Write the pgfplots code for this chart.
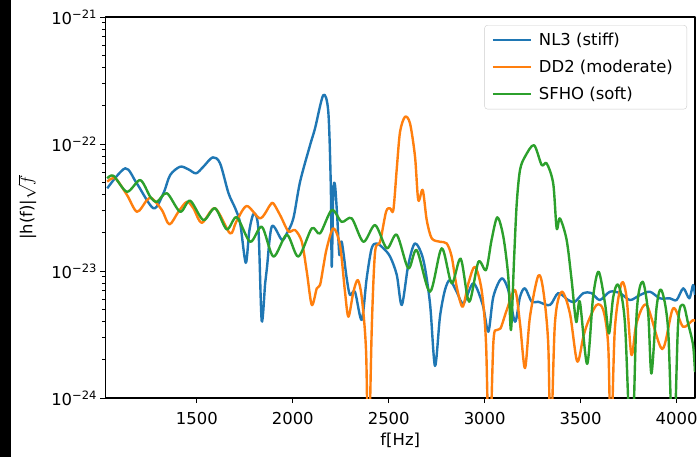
\documentclass[border=0pt]{standalone}
\usepackage{pgfplots}
\pgfplotsset{compat=1.18}
\usepackage{fontspec}
\setmainfont{DejaVu Sans}
\definecolor{c1}{HTML}{1F77B4}
\definecolor{c2}{HTML}{FF7F0E}
\definecolor{c3}{HTML}{2CA02C}
\begin{document}
\begin{tikzpicture}
\useasboundingbox (0,0) rectangle (700bp,457bp);
\fill[black] (0,0) rectangle (10.5bp,457bp);
\begin{axis}[
  at={(105.5bp,59bp)}, anchor=south west,
  width=589.5bp, height=381bp, scale only axis,
  xmin=1024, xmax=4096, ymode=log, ymin=1e-24, ymax=1e-21,
  xtick={1500,2000,2500,3000,3500,4000},
  xticklabels={1500,2000,2500,3000,3500,4000},
  ytick={1e-24,1e-23,1e-22,1e-21},
  yticklabels={10\textsuperscript{−24},10\textsuperscript{−23},10\textsuperscript{−22},10\textsuperscript{−21}},
  minor ytick={2e-24,3e-24,4e-24,5e-24,6e-24,7e-24,8e-24,9e-24,2e-23,3e-23,4e-23,5e-23,6e-23,7e-23,8e-23,9e-23,2e-22,3e-22,4e-22,5e-22,6e-22,7e-22,8e-22,9e-22},
  tick align=outside, tick pos=left,
  major tick length=5bp, minor tick length=3bp,
  every tick/.style={black, line width=1bp},
  axis line style={line width=1.2bp},
  tick label style={font=\fontsize{16.5}{19}\selectfont},
  xticklabel style={yshift=-6bp},
  label style={font=\fontsize{16.5}{19}\selectfont},
  xlabel={f[Hz]},
  ylabel={|h(f)|$\sqrt{f}$},
  xlabel style={at={(axis description cs:0.5,-0.110)}, anchor=center},
  ylabel style={at={(axis description cs:-0.133,0.5)}, anchor=center},
  legend style={at={(1,1)}, anchor=north east, xshift=-8bp, yshift=-8bp,
    draw=black!20, rounded corners=3bp, fill=white,
    font=\fontsize{16.5}{19}\selectfont, inner xsep=7bp, inner ysep=6bp,
    row sep=9bp, nodes={inner xsep=7bp}},
  legend cell align=left,
  legend image code/.code={\draw[#1, line width=2.4bp] (0bp,0bp) -- (38bp,0bp);},
  line join=round,
]
\addplot[c1, line width=2.4bp, smooth] table {
1033 4.48e-23
1127 6.44e-23
1187 4.90e-23
1274 3.12e-23
1326 4.10e-23
1361 5.70e-23
1413 6.63e-23
1456 6.32e-23
1496 5.88e-23
1534 6.63e-23
1583 7.86e-23
1621 7.05e-23
1665 4.10e-23
1700 3.12e-23
1726 2.37e-23
1755 1.16e-23
1774 2.10e-23
1798 2.85e-23
1821 2.10e-23
1838 4.06e-24
1856 8.0e-24
1865 1.05e-23
1891 2.25e-23
1943 1.76e-23
1969 1.98e-23
2003 2.60e-23
2038 5.05e-23
2090 9.8e-23
2116 1.33e-22
2159 2.43e-22
2185 1.80e-22
2198 4.75e-23
2203 1.08e-23
2211 4.21e-23
2220 4.75e-23
2232 2.60e-23
2243 1.34e-23
2255 1.70e-23
2281 8.76e-24
2298 6.47e-24
2324 6.87e-24
2359 4.12e-24
2385 8.76e-24
2411 1.51e-23
2437 1.65e-23
2472 1.51e-23
2507 1.30e-23
2542 9.30e-24
2568 5.40e-24
2602 1.12e-23
2637 1.65e-23
2680 1.23e-23
2715 5.56e-24
2741 1.79e-24
2767 4.37e-24
2793 7.09e-24
2819 8.49e-24
2854 6.87e-24
2889 5.56e-24
2941 8.0e-24
2990 5.4e-24
3019 3.33e-24
3045 6.27e-24
3088 8.76e-24
3123 7.09e-24
3158 3.99e-24
3184 6.27e-24
3210 7.31e-24
3245 5.73e-24
3279 5.73e-24
3340 5.40e-24
3383 6.70e-24
3435 5.91e-24
3470 5.73e-24
3514 6.70e-24
3557 6.70e-24
3600 5.91e-24
3652 6.87e-24
3705 6.70e-24
3757 5.91e-24
3809 6.47e-24
3861 6.87e-24
3913 6.10e-24
3965 6.10e-24
4000 5.91e-24
4035 7.31e-24
4066 6.10e-24
4086 7.76e-24
4096 6.5e-24
};
\addlegendentry{NL3 (stiff)}
\addplot[c2, line width=2.4bp, smooth] table {
1033 5.05e-23
1075 5.37e-23
1136 3.97e-23
1188 2.93e-23
1240 3.62e-23
1266 3.74e-23
1318 3.02e-23
1357 2.33e-23
1404 2.93e-23
1448 3.51e-23
1482 3.12e-23
1526 2.40e-23
1595 3.12e-23
1673 1.98e-23
1705 2.44e-23
1760 3.25e-23
1830 2.60e-23
1882 3.31e-23
1899 3.41e-23
1938 2.68e-23
1977 2.05e-23
2012 2.10e-23
2047 1.70e-23
2073 9.87e-24
2099 5.40e-24
2125 7.3e-24
2142 7.76e-24
2160 1.1e-23
2177 1.51e-23
2211 2.17e-23
2246 1.60e-23
2272 6.87e-24
2290 4.37e-24
2316 6.87e-24
2339 8.49e-24
2360 6.10e-24
2382 2.31e-24
2394 3e-25
2412 3.76e-24
2429 1.42e-23
2455 1.70e-23
2486 2.93e-23
2507 3.12e-23
2524 3.02e-23
2542 6.44e-23
2559 1.25e-22
2585 1.64e-22
2611 1.45e-22
2637 7.95e-23
2654 3.62e-23
2677 4.35e-23
2698 2.52e-23
2724 1.81e-23
2767 1.70e-23
2802 1.65e-23
2828 1.30e-23
2854 7.53e-24
2885 5.23e-24
2915 8.0e-24
2949 1.08e-23
2984 7.09e-24
3007 2.70e-24
3024 3e-25
3045 2.70e-24
3063 3.43e-24
3083 3.54e-24
3115 4.93e-24
3158 7.09e-24
3184 3.87e-24
3210 1.72e-24
3236 4.37e-24
3279 9.18e-24
3305 7.09e-24
3331 2.70e-24
3344 4e-25
3366 3.87e-24
3401 6.87e-24
3444 4.65e-24
3482 1.94e-24
3514 3.04e-24
3539 3.99e-24
3583 5.40e-24
3618 4.93e-24
3644 2.54e-24
3658 4e-25
3678 3.43e-24
3713 8.0e-24
3739 6.27e-24
3765 2.18e-24
3791 3.87e-24
3844 5.40e-24
3925 2.43e-24
3982 5.09e-24
4034 3.64e-24
4086 4.12e-24
4096 4.0e-24
};
\addlegendentry{DD2 (moderate)}
\addplot[c3, line width=2.4bp, smooth] table {
1033 5.37e-23
1066 5.62e-23
1136 4.21e-23
1205 5.20e-23
1257 3.85e-23
1292 3.51e-23
1344 4.10e-23
1413 2.93e-23
1465 3.58e-23
1534 2.52e-23
1595 3.12e-23
1656 2.13e-23
1708 2.65e-23
1778 1.70e-23
1839 2.23e-23
1899 1.30e-23
1969 1.93e-23
2029 1.30e-23
2099 2.17e-23
2142 1.98e-23
2203 3.02e-23
2255 2.44e-23
2307 2.60e-23
2368 1.70e-23
2429 2.30e-23
2490 1.51e-23
2542 1.93e-23
2602 1.05e-23
2646 1.46e-23
2715 6.87e-24
2776 1.51e-23
2828 8.0e-24
2875 1.25e-23
2919 5.73e-24
2967 1.18e-23
3007 1.02e-23
3036 1.76e-23
3066 2.65e-23
3097 1.87e-23
3123 9.0e-24
3137 3.43e-24
3153 1.23e-23
3167 3.41e-23
3184 6.24e-23
3210 7.95e-23
3257 9.8e-23
3297 6.84e-23
3323 7.05e-23
3357 4.90e-23
3375 2.17e-23
3392 2.60e-23
3427 1.76e-23
3453 8.49e-24
3477 3.97e-24
3496 5.73e-24
3534 1.86e-24
3565 6.27e-24
3594 9.87e-24
3627 5.56e-24
3648 3.23e-24
3670 6.27e-24
3697 7.76e-24
3731 3.87e-24
3765 3e-25
3792 4.65e-24
3823 8.24e-24
3852 4.65e-24
3869 1.56e-24
3896 5.23e-24
3921 7.09e-24
3956 3.43e-24
3983 3e-25
4008 3.87e-24
4035 5.40e-24
4060 3.87e-24
4086 2.61e-24
4096 1.6e-24
};
\addlegendentry{SFHO (soft)}
\end{axis}
\end{tikzpicture}
\end{document}
